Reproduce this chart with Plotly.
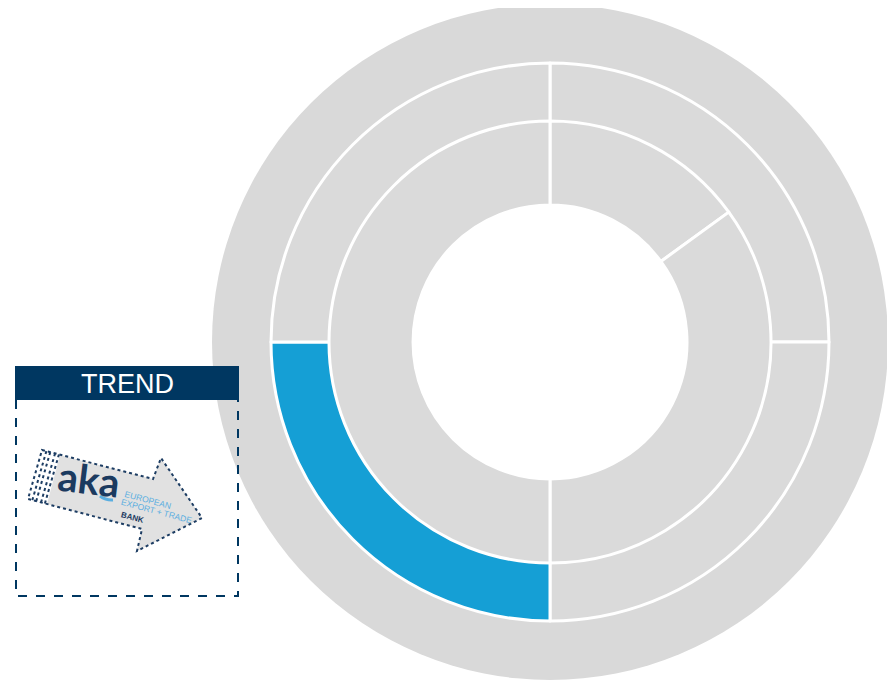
import math
import plotly.graph_objects as go

W, H = 895, 680
OX, OY = 8, 8  # page body margin offset

# ---- data ----
outer_labels = ["Q1", "Q2", "Q3", "Q4"]
outer_values = [25, 25, 25, 25]
outer_colors = ["#dadada", "#dadada", "#159fd5", "#dadada"]

inner_labels = ["A", "B", "C"]
inner_values = [15, 35, 50]
inner_colors = ["#dadada", "#dadada", "#dadada"]

title_text = "TREND"

# ---- helpers (screen pixel -> paper) ----
CX, CY = 550, 342


def px(x):
    return (x - OX) / W


def py(y):
    return 1 - (y - OY) / H


def dom(r):
    return dict(x=[px(CX - r), px(CX + r)], y=[py(CY + r), py(CY - r)])


def circle(r, color):
    return dict(type="circle", xref="paper", yref="paper", x0=px(CX - r), x1=px(CX + r),
                y0=py(CY + r), y1=py(CY - r), fillcolor=color, line=dict(width=0), layer="below")


fig = go.Figure()

# outer ring
fig.add_trace(go.Pie(values=outer_values, labels=outer_labels, hole=220 / 279, domain=dom(279),
                     marker=dict(colors=outer_colors, line=dict(color="white", width=3)),
                     textinfo="none", hoverinfo="skip", sort=False, direction="clockwise",
                     rotation=0, showlegend=False))

# inner ring
fig.add_trace(go.Pie(values=inner_values, labels=inner_labels, hole=137 / 221, domain=dom(221),
                     marker=dict(colors=inner_colors, line=dict(color="white", width=3)),
                     textinfo="none", hoverinfo="skip", sort=False, direction="clockwise",
                     rotation=0, showlegend=False))

navy = "#003761"
shapes = [circle(338, "#d9d9d9"), circle(278, "white")]
# header
shapes.append(dict(type="rect", xref="paper", yref="paper", x0=px(15), x1=px(239), y0=py(400), y1=py(366),
                   fillcolor=navy, line=dict(width=0), layer="above"))
# dashed box
shapes.append(dict(type="path", xref="paper", yref="paper",
                   path=f"M {px(16)} {py(400)} L {px(16)} {py(596)} L {px(238)} {py(596)} L {px(238)} {py(400)}",
                   line=dict(color=navy, width=2, dash="dash"), layer="above"))


def P(pts):
    return "M " + " L ".join(f"{px(x)} {py(y)}" for x, y in pts) + " Z"


# logo arrow
fill_pts = [(60, 455), (153, 479), (161, 458), (202, 518), (137, 551), (142, 529), (47, 504)]
shapes.append(dict(type="path", xref="paper", yref="paper", path=P(fill_pts),
                   fillcolor="#e1e1e1", line=dict(width=0), layer="above"))
outline_pts = [(42, 450), (153, 479), (161, 458), (202, 518), (137, 551), (142, 529), (28, 499)]
shapes.append(dict(type="path", xref="paper", yref="paper", path=P(outline_pts),
                   line=dict(color="#1d3d63", width=2, dash="dot"), layer="above"))
# tail stripes
ux, uy = math.cos(math.radians(14.7)), math.sin(math.radians(14.7))
for off in [4.5, 8.5, 13.5, 17.5]:
    x0, y0 = 42 + ux * off, 450 + uy * off
    x1, y1 = 28 + ux * off, 499 + uy * off
    shapes.append(dict(type="line", xref="paper", yref="paper", x0=px(x0), y0=py(y0), x1=px(x1), y1=py(y1),
                       line=dict(color="#1d3d63", width=2, dash="dot"), layer="above"))
# swoosh under last "a"
shapes.append(dict(type="path", xref="paper", yref="paper",
                   path=f"M {px(100)} {py(496)} Q {px(106)} {py(500.5)} {px(113)} {py(500)}",
                   line=dict(color="#5aaee0", width=3), layer="above"))

A = dict(xref="paper", yref="paper", showarrow=False, xanchor="center", yanchor="middle")
annotations = [
    dict(A, x=px(127), y=py(384), text=title_text,
         font=dict(family="Liberation Sans, Arial", size=27, color="white")),
    dict(A, x=px(88.5), y=py(479), text="<b>aka</b>", textangle=7,
         font=dict(family="Lato, Noto Sans", size=40, color="#1b3a5f")),
    dict(A, x=px(148), y=py(500), text="EUROPEAN", textangle=15,
         font=dict(family="Liberation Sans", size=8.5, color="#5aaee0")),
    dict(A, x=px(156), y=py(511), text="EXPORT + TRADE", textangle=15,
         font=dict(family="Liberation Sans", size=8.5, color="#5aaee0")),
    dict(A, x=px(132.5), y=py(517), text="<b>BANK</b>", textangle=15,
         font=dict(family="Liberation Sans", size=8, color="#1b3a5f")),
]

fig.update_layout(width=W, height=H, margin=dict(l=0, r=0, t=0, b=0),
                  paper_bgcolor="white", plot_bgcolor="white", showlegend=False,
                  shapes=shapes, annotations=annotations)

fig.write_html("out.html")
